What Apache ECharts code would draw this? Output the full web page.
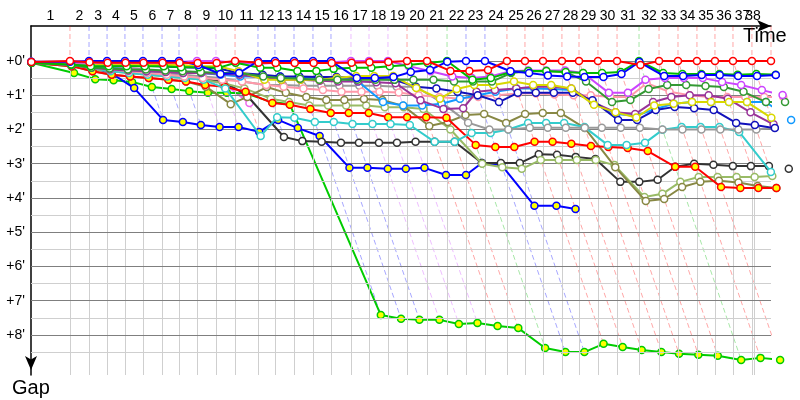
<!DOCTYPE html>
<html><head><meta charset="utf-8">
<script src="https://cdn.jsdelivr.net/npm/echarts@6/dist/echarts.min.js"></script>
<style>html,body{margin:0;padding:0;background:#fff}#c{width:800px;height:400px}</style>
</head><body><div id="c"></div>
<script>
// Leader's cumulative time (minutes) at the end of each lap (index = lap, 0 = start)
const lapTimes = [0, 3.33, 4.96, 6.50, 8.03, 9.57, 11.20, 12.65, 14.19, 15.81, 17.44, 19.40, 20.85, 22.48, 24.10, 25.64, 27.35, 28.89, 30.51, 32.14, 33.85, 35.56, 37.18, 38.80, 40.68, 42.22, 43.76, 45.38, 46.84, 48.46, 50.09, 51.97, 53.68, 55.30, 56.92, 58.46, 60.00, 61.62, 63.25];
// time at which the race clock stopped (extra grid line drawn beside lap 37)
const finishTime = 61.80;
const lapLabels = ['1','2','3','4','5','6','7','8','9','10','11','12','13','14','15','16','17','18','19','20','21','22','23','24','25','26','27','28','29','30','31','32','33','34','35','36','37','38'];
const gapTicks = [0, 1, 2, 3, 4, 5, 6, 7, 8];

// Gap to leader (minutes) per lap, index = lap
const gapRed = [0.03,0,0.04,0.05,0.05,0.05,0.05,0.05,0.06,0.06, 0,0.05,0.06,0.06,0.06,0.06,0.05,0.04,0.03,0, 0,0.29,0.29,0.26,0,0,0,0,0,0, 0,0.12,0,0,0,0,0,0,0];
const gapBlue = [0.02,0.02,0,0,0,0,0,0,0.12,0.38, 0.35,0,0,0,0,0,0.5,0.5,0.47,0.32, 0.26,0.02,0,0,0.3,0.35,0.42,0.45,0.47,0.47, 0.38,0.03,0.44,0.44,0.41,0.41,0.44,0.44,0.41];
const gapViolet = [0.02,0.05,0.05,0.05,0.05,0.05,0.05,0.03,0,0, 0.05,0.08,0.05,0.05,0.04,0.04,0,0,0,0.15, 0.3,0.45,0.5,0.45,0.3,0.28,0.28,0.28,0.35,0.93, 0.93,0.55,0.5,0.5,0.5,0.61,0.7,0.85,0.99];
const gapGreen = [0.05,0.1,0.15,0.15,0.15,0.15,0.15,0.18,0.18,0.2, 0.05,0.2,0.2,0.29,0.29,0.23,0.2,0.2,0.15,0.12, 0.06,0,0.55,0.5,0.32,0.29,0.29,0.32,0.35,0.35, 0.32,0,0.35,0.38,0.38,0.38,0.4,0.38,0.4];
const gapDarkGreen = [0.05,0.12,0.2,0.22,0.25,0.25,0.28,0.3,0.32,0.35, 0.35,0.45,0.5,0.52,0.55,0.55,0.55,0.55,0.55,0.55, 0.55,0.6,0.6,0.6,0.35,0.3,0.3,0.32,0.6,1.2, 1.14,0.82,0.7,0.7,0.73,0.76,0.9,1.2,1.2];
const gapYellow = [0.02,0.05,0.08,0.1,0.1,0.12,0.12,0.12,0.15,0.15, 0.3,0.55,0.55,0.55,0.55,0.5,0.44,0.44,0.44,0.79, 1.1,0.82,0.7,0.7,0.6,0.7,0.7,0.8,1.28,1.5, 1.65,1.3,1.25,1.2,1.2,1.2,1.2,1.66];
const gapPurple = [0.05,0.12,0.2,0.25,0.28,0.3,0.32,0.35,0.35,0.38, 0.4,0.5,0.55,0.55,0.58,0.6,0.6,0.62,0.65,1.15, 1.4,1.38,0.9,0.85,0.8,0.75,0.75,0.8,1.2,1.5, 1.55,1.2,1.05,1.0,1.0,1.1,1.5,1.85];
const gapGrey = [0.05,0.1,0.15,0.2,0.25,0.3,0.35,0.4,0.45,0.5, 0.6,0.7,0.7,0.72,0.72,0.72,0.72,0.72,0.75,0.75, 1.2,1.8,2.0,2.0,1.95,1.95,1.95,1.95,1.95,1.95, 1.95,2.0,2.0,2.0,2.0,2.0,2.0,1.95];
const gapOlive = [0.05,0.15,0.3,0.4,0.45,0.5,0.55,0.6,0.75,1.26, 1.05,0.76,0.93,1.05,1.14,1.14,1.11,1.14,1.31,1.9, 1.78,1.58,1.55,1.81,1.55,1.52,1.52,1.96,3.1,4.09, 4.03,3.68,3.53,3.5,3.55,3.65,3.71];
const gapBlack = [0.05,0.12,0.2,0.28,0.32,0.38,0.42,0.48,0.52,0.6, 1.0,2.22,2.34,2.36,2.39,2.39,2.39,2.39,2.36,2.36, 2.36,2.98,2.98,2.98,2.72,2.74,2.8,2.86,3.53,3.53, 3.47,3.09,3.0,3.03,3.07,3.07,3.07,3.15];
const gapCyan = [0.05,0.1,0.2,0.3,0.35,0.4,0.45,0.5,0.55,0.8, 2.19,1.64,1.66,1.78,1.78,1.84,1.84,1.84,1.87,2.36, 2.36,2.1,2.1,2.0,1.81,1.81,1.81,1.93,2.45,2.45, 2.39,2.01,1.93,1.93,1.93,2.07,3.24];
const gapLightBlue = [0.04,0.1,0.15,0.2,0.25,0.3,0.3,0.35,0.35,0.4, 0.45,0.45,0.45,0.5,0.5,0.5,0.6,1.2,1.3,1.3, 1.25,1.1,1.0,0.9,0.8,0.8,0.82,0.85,1.2,1.55, 1.6,1.4,1.25,1.2,1.2,1.2,1.2,1.2,1.72];
const gapNavy = [0.03,0.05,0.08,0.1,0.12,0.14,0.16,0.18,0.2,0.22, 0.35,0.4,0.45,0.45,0.47,0.47,0.5,0.52,0.55,0.75, 0.8,0.9,1.0,1.2,0.93,0.93,0.93,0.93,1.15,1.72, 1.72,1.43,1.34,1.38,1.43,1.81,1.87,1.96];
const gapPink = [0.04,0.12,0.2,0.25,0.3,0.35,0.4,0.45,0.5,0.55, 0.6,0.7,0.75,0.8,0.85,0.9,0.9,0.9,0.92,1.0, 1.05,1.1,1.05,1.0,0.95,0.95,0.98,1.0,1.0,1.05, 1.05,0.65,0.9,1.0,1.05,1.05,1.05,1.05,1.05];
const gapLightOlive = [0.05,0.15,0.25,0.3,0.35,0.4,0.45,0.5,0.55,0.65, 0.8,1.1,1.2,1.3,1.3,1.3,1.3,1.35,1.35,1.4, 2.0,3.0,3.1,3.15,2.89,2.89,2.89,2.89,3.04,3.97, 3.88,3.53,3.39,3.39,3.39,3.39,3.36];
const gapRedYellow = [0.05,0.15,0.3,0.4,0.45,0.5,0.55,0.6,0.7,0.75, 0.9,1.23,1.28,1.4,1.52,1.52,1.52,1.64,1.64,1.64, 1.66,2.45,2.51,2.51,2.36,2.36,2.42,2.48,2.51,2.54, 2.63,3.09,3.09,3.68,3.71,3.71,3.71];
const gapBlueYellow = [0.05,0.1,0.2,0.35,0.79,1.72,1.78,1.87,1.93,1.93, 2.07,1.72,1.96,2.19,3.12,3.12,3.15,3.15,3.12,3.33, 3.33,2.98,3.04,4.23,4.23,4.32];
const gapGreenYellow = [0.05,0.35,0.53,0.56,0.61,0.76,0.82,0.88,0.93,0.93, 0.95,1.2,1.26,7.42,7.53,7.56,7.56,7.68,7.65,7.74, 7.8,8.38,8.5,8.5,8.26,8.35,8.44,8.5,8.55,8.58, 8.61,8.73,8.67,8.73];
const gapMagenta = [0.04,0.08,0.12,0.15,0.2,0.25,0.35,0.45,0.55,0.65, 1.23];

// styling (kept apart from the data)
const cars = [
  {gaps: gapMagenta, line: '#ee66ee', fill: '#ffffff'},
  {gaps: gapGreenYellow, line: '#00cc00', fill: '#ffff00'},
  {gaps: gapBlueYellow, line: '#0000ff', fill: '#ffff00'},
  {gaps: gapBlack, line: '#333333', fill: '#ffffff'},
  {gaps: gapLightOlive, line: '#99bb66', fill: '#ffffff'},
  {gaps: gapOlive, line: '#888844', fill: '#ffffff'},
  {gaps: gapRedYellow, line: '#ff0000', fill: '#ffff00'},
  {gaps: gapCyan, line: '#33cccc', fill: '#ffffff'},
  {gaps: gapGrey, line: '#999999', fill: '#ffffff'},
  {gaps: gapPink, line: '#ff99aa', fill: '#ffffff'},
  {gaps: gapLightBlue, line: '#1199ff', fill: '#ffffff'},
  {gaps: gapPurple, line: '#993399', fill: '#ffffff'},
  {gaps: gapNavy, line: '#1111bb', fill: '#ffffff'},
  {gaps: gapYellow, line: '#d8d800', fill: '#ffffff'},
  {gaps: gapDarkGreen, line: '#339933', fill: '#ffffff'},
  {gaps: gapViolet, line: '#cc44ff', fill: '#ffffff'},
  {gaps: gapGreen, line: '#00bb00', fill: '#ffffff'},
  {gaps: gapBlue, line: '#0000ff', fill: '#ffffff'},
  {gaps: gapRed, line: '#ff0000', fill: '#ffffff'}
];

const Y_TOP = -1.022, Y_BOTTOM = 9.17;
const X_MAX = lapTimes[lapTimes.length - 1];
const FONT = '"Liberation Sans", Arial, sans-serif';

function fade(hex, a) {
  const n = parseInt(hex.slice(1), 16);
  return 'rgba(' + ((n >> 16) & 255) + ',' + ((n >> 8) & 255) + ',' + (n & 255) + ',' + a + ')';
}

const series = [];

// grid lines
const vLines = lapTimes.slice(1, lapTimes.length - 1).concat([finishTime]);
const gridLines = [];
vLines.forEach(t => {
  gridLines.push([{coord: [t, 0], lineStyle: {color: '#cfcfcf', width: 1, type: 'solid'}}, {coord: [t, Y_BOTTOM]}]);
});
for (let h = 0; h <= 8.5; h += 0.5) {
  const major = Math.abs(h - Math.round(h)) < 1e-9;
  gridLines.push([{coord: [0, h], lineStyle: {color: major ? '#7f7f7f' : '#cfcfcf', width: 1, type: 'solid'}}, {coord: [X_MAX, h]}]);
}
series.push({
  type: 'line', data: [], silent: true, z: 1,
  markLine: {silent: true, symbol: ['none', 'none'], label: {show: false}, animation: false, data: gridLines}
});

// dashed lap lines: leader colour, from the time axis down to the last car on that lap
for (let k = 1; k < lapTimes.length; k++) {
  let maxG = -1, minG = 1e9, leader = null;
  cars.forEach(c => {
    if (c.gaps.length > k) {
      const g = c.gaps[k];
      if (g > maxG) maxG = g;
      if (g < minG) { minG = g; leader = c; }
    }
  });
  series.push({
    type: 'line', silent: true, symbol: 'none', clip: false, z: 2,
    lineStyle: {color: fade(leader.line, 0.35), width: 1, type: [5, 3]},
    data: [[lapTimes[k], Y_TOP], [lapTimes[k], 0], [lapTimes[k] + maxG, maxG]]
  });
}

// cars: a lap is completed at leader time + gap
cars.forEach((c, i) => {
  series.push({
    type: 'line', silent: true, clip: false, z: 3 + i,
    symbol: 'circle', symbolSize: 7, showSymbol: true, showAllSymbol: true,
    lineStyle: {color: c.line, width: 2},
    itemStyle: {color: c.fill, borderColor: c.line, borderWidth: 1.5},
    emphasis: {disabled: true},
    data: c.gaps.map((g, k) => [lapTimes[k] + g, g])
  });
});

// lap number centred in its band (last band closes at the finish line)
const bandEnds = lapTimes.slice(1, lapTimes.length - 1).concat([finishTime]);
const mids = lapLabels.map((_, i) => (lapTimes[i] + bandEnds[i]) / 2);
const lapLabelFor = v => { let best = 0; mids.forEach((m, i) => { if (Math.abs(m - v) < Math.abs(mids[best] - v)) best = i; }); return lapLabels[best]; };
const labelStyle = {margin: 3, color: '#000', fontSize: 14, fontFamily: FONT, hideOverlap: false, showMaxLabel: true, showMinLabel: true, formatter: lapLabelFor};

const chart = echarts.init(document.getElementById('c'));
chart.setOption({
  animation: false,
  backgroundColor: '#ffffff',
  grid: {left: 31, right: 29, top: 26, bottom: 25, containLabel: false},
  xAxis: [{
    type: 'value', position: 'top', min: 0, max: X_MAX, offset: 0,
    splitLine: {show: false}, axisTick: {show: false},
    axisLine: {onZero: false, lineStyle: {color: '#000', width: 1.5}, symbol: ['none', 'arrow'], symbolSize: [9, 14]},
    axisLabel: Object.assign({customValues: mids.slice(0, mids.length - 1)}, labelStyle)
  }, {
    // second label row holding the final lap number, which overlaps its neighbour
    type: 'value', position: 'top', min: 0, max: X_MAX, offset: 0,
    splitLine: {show: false}, axisTick: {show: false}, axisLine: {show: false},
    axisLabel: Object.assign({customValues: mids.slice(mids.length - 1)}, labelStyle)
  }],
  yAxis: {
    type: 'value', inverse: true, min: Y_TOP, max: Y_BOTTOM,
    splitLine: {show: false}, axisTick: {show: false},
    axisLine: {onZero: false, lineStyle: {color: '#000', width: 1.5}, symbol: ['arrow', 'none'], symbolSize: [9, 14], symbolOffset: [5, 0]},
    axisLabel: {customValues: gapTicks, margin: 6, color: '#000', fontSize: 14, fontFamily: FONT, formatter: v => "+" + v + "'"}
  },
  graphic: [
    {type: 'text', left: 743, top: 26, style: {text: 'Time', font: '20px ' + FONT, fill: '#000'}},
    {type: 'text', left: 12, top: 378, style: {text: 'Gap', font: '20px ' + FONT, fill: '#000'}}
  ],
  series: series
});
</script></body></html>
